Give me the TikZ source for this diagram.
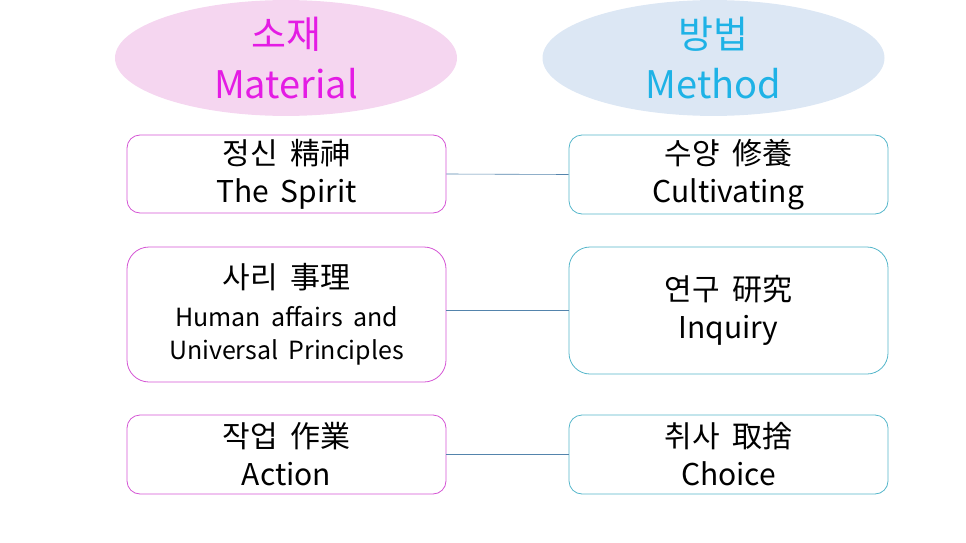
\documentclass[tikz,border=0pt]{standalone}
\usepackage{fontspec}
\setmainfont[WordSpace=1.8]{Noto Sans CJK KR}
\usetikzlibrary{shapes.geometric}
\definecolor{matfill}{RGB}{245,214,240}
\definecolor{mattext}{RGB}{228,28,228}
\definecolor{matline}{RGB}{212,84,212}
\definecolor{metfill}{RGB}{220,231,244}
\definecolor{mettext}{RGB}{30,178,230}
\definecolor{metline}{RGB}{84,182,202}
\definecolor{linkline}{RGB}{84,132,172}

\begin{document}
\begin{tikzpicture}
    [x=1pt,y=-1pt,
      head/.style={ellipse,inner sep=0pt,minimum width=342pt,minimum height=92pt,align=center,
          font=\fontsize{38}{50}\selectfont},
      matbox/.style={draw=matline,line width=0.8pt,rounded corners=13pt,minimum width=319pt,align=center,
          font=\fontsize{30}{38}\selectfont},
      metbox/.style={draw=metline,line width=0.8pt,rounded corners=13pt,minimum width=319pt,align=center,
          font=\fontsize{30}{38}\selectfont},
      link/.style={draw=linkline,line width=0.6pt}
    ]
    \useasboundingbox (0,0) rectangle (966,543);
    % headings
    \node [head,fill=matfill,text=mattext] (mat) at (286,58) {소재\\Material};
    \node [head,fill=metfill,text=mettext] (met) at (713.5,58) {방법\\Method};
    % material column
    \node [matbox,minimum height=78pt] (spirit) at (286.5,174) {정신 精神\\The Spirit};
    \node [matbox,minimum height=135pt,rounded corners=22pt] (affairs) at (286.5,314.5)
      {사리 事理\\{\fontsize{25}{33}\selectfont Human affairs and}\\[-5pt]{\fontsize{25}{33}\selectfont Universal Principles}};
    \node [matbox,minimum height=79pt] (action) at (286.5,454.5) {작업 作業\\Action};
    % method column
    \node [metbox,minimum height=79pt] (cultiv) at (728.5,174.5) {수양 修養\\Cultivating};
    \node [metbox,minimum height=127pt,rounded corners=21pt] (inquiry) at (728.5,310.5) {연구 研究\\Inquiry};
    \node [metbox,minimum height=79pt] (choice) at (728.5,454.5) {취사 取捨\\Choice};
    % links
    \draw [link] (spirit.east) -- (cultiv.west);
    \draw [link] (affairs.east |- inquiry.west) -- (inquiry.west);
    \draw [link] (action.east) -- (choice.west);
  \end{tikzpicture}
\end{document}
